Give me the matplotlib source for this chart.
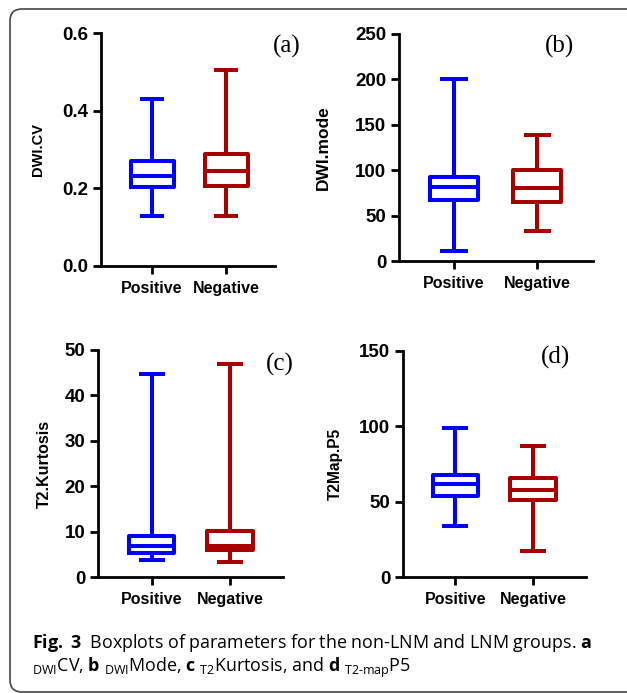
import matplotlib
matplotlib.use('agg')
import matplotlib.pyplot as plt
from matplotlib.patches import FancyBboxPatch

plt.rcParams.update({
    "font.family": "sans-serif",
    "font.sans-serif": ["Liberation Sans", "DejaVu Sans"],
    "mathtext.fontset": "custom",
    "mathtext.rm": "Open Sans",
    "mathtext.bf": "Open Sans:bold",
})

groups = ['Positive', 'Negative']
colors = ['#0000FF', '#A80000']

# whisker low, Q1, median, Q3, whisker high
dwi_cv_pos = [0.13, 0.203, 0.232, 0.27, 0.43]
dwi_cv_neg = [0.13, 0.205, 0.245, 0.288, 0.505]
dwi_mode_pos = [11, 67, 82, 92, 200]
dwi_mode_neg = [33, 65, 80, 100, 139]
t2_kurt_pos = [3.8, 5.2, 6.8, 9.0, 44.8]
t2_kurt_neg = [3.3, 6.0, 6.8, 10.2, 47]
t2map_p5_pos = [34, 54, 62, 68, 99]
t2map_p5_neg = [17, 51, 58, 66, 87]

ylabels = ['DWI.CV', 'DWI.mode', 'T2.Kurtosis', 'T2Map.P5']
yticks = [[0.0, 0.2, 0.4, 0.6], [0, 50, 100, 150, 200, 250],
          [0, 10, 20, 30, 40, 50], [0, 50, 100, 150]]
ytick_labels = [['0.0', '0.2', '0.4', '0.6'], ['0', '50', '100', '150', '200', '250'],
                ['0', '10', '20', '30', '40', '50'], ['0', '50', '100', '150']]
letters = ['(a)', '(b)', '(c)', '(d)']

panels = [
    ([101, 275, 33, 266], [dwi_cv_pos, dwi_cv_neg], (0.31, 2.66), (287, 46), -0.32, 10.5),
    ([399, 593, 34, 261], [dwi_mode_pos, dwi_mode_neg], (0.34, 2.67), (560, 46), -0.35, 12.5),
    ([98, 283, 350, 577], [t2_kurt_pos, t2_kurt_neg], (0.31, 2.68), (280, 364), -0.25, 11.5),
    ([403, 586, 351, 577], [t2map_p5_pos, t2map_p5_neg], (0.33, 2.68), (555, 357), -0.33, 11.2),
]

W, H = 627, 693
fig = plt.figure(figsize=(W / 100, H / 100), dpi=100)

for i, (px, data, xl, lpos, labx, labsize) in enumerate(panels):
    x0, x1, ytop, ybot = px
    ax = fig.add_axes([x0 / W, 1 - ybot / H, (x1 - x0) / W, (ybot - ytop) / H])
    stats = []
    for g, d in zip(groups, data):
        stats.append({'whislo': d[0], 'q1': d[1], 'med': d[2], 'q3': d[3],
                      'whishi': d[4], 'fliers': [], 'label': g})
    art = ax.bxp(stats, positions=[1, 2], widths=0.58, capwidths=0.28,
                 showfliers=False, manage_ticks=False)
    for k, c in enumerate(colors):
        art['boxes'][k].set(color=c, linewidth=2.9)
        art['medians'][k].set(color=c, linewidth=2.9)
        for j in (2 * k, 2 * k + 1):
            art['whiskers'][j].set(color=c, linewidth=2.9)
            art['caps'][j].set(color=c, linewidth=2.9)
    ax.set_xlim(*xl)
    ax.set_ylim(yticks[i][0], yticks[i][-1])
    ax.set_yticks(yticks[i])
    ax.set_yticklabels(ytick_labels[i], fontsize=13.5, fontweight='bold')
    ax.set_xticks([1, 2])
    ax.set_xticklabels(groups, fontsize=11.5, fontweight='bold')
    ax.spines['top'].set_visible(False)
    ax.spines['right'].set_visible(False)
    ax.spines['left'].set_linewidth(2)
    ax.spines['bottom'].set_linewidth(2)
    ax.tick_params(width=2, length=6, pad=3)
    ax.tick_params(axis='x', pad=5)
    ax.set_ylabel(ylabels[i], fontsize=labsize, fontweight='bold')
    ax.yaxis.set_label_coords(labx, 0.5)
    fig.text(lpos[0] / W, 1 - lpos[1] / H, letters[i], fontsize=18,
             family='Liberation Serif', ha='center', va='center')

# journal frame, right edge runs off the page
frame = FancyBboxPatch((0.10, 0.01), 6.9, 6.83, boxstyle='round,pad=0,rounding_size=0.12',
                       transform=fig.dpi_scale_trans, fill=False, ec='#444444', lw=1.2)
fig.add_artist(frame)

cap = 'Open Sans'
fig.text(32 / W, 1 - 648 / H,
         r'$\mathbf{Fig.\ 3}$  Boxplots of parameters for the non-LNM and LNM groups. $\mathbf{a}$',
         fontsize=12.9, family=cap, va='baseline', ha='left')
fig.text(32 / W, 1 - 672 / H,
         r'$_{\mathrm{DWI}}$CV, $\mathbf{b}$ $_{\mathrm{DWI}}$Mode, $\mathbf{c}$ $_{\mathrm{T2}}$Kurtosis, and $\mathbf{d}$ $_{\mathrm{T2\text{-}map}}$P5',
         fontsize=12.9, family=cap, va='baseline', ha='left')

plt.savefig('out.png', dpi=100)
